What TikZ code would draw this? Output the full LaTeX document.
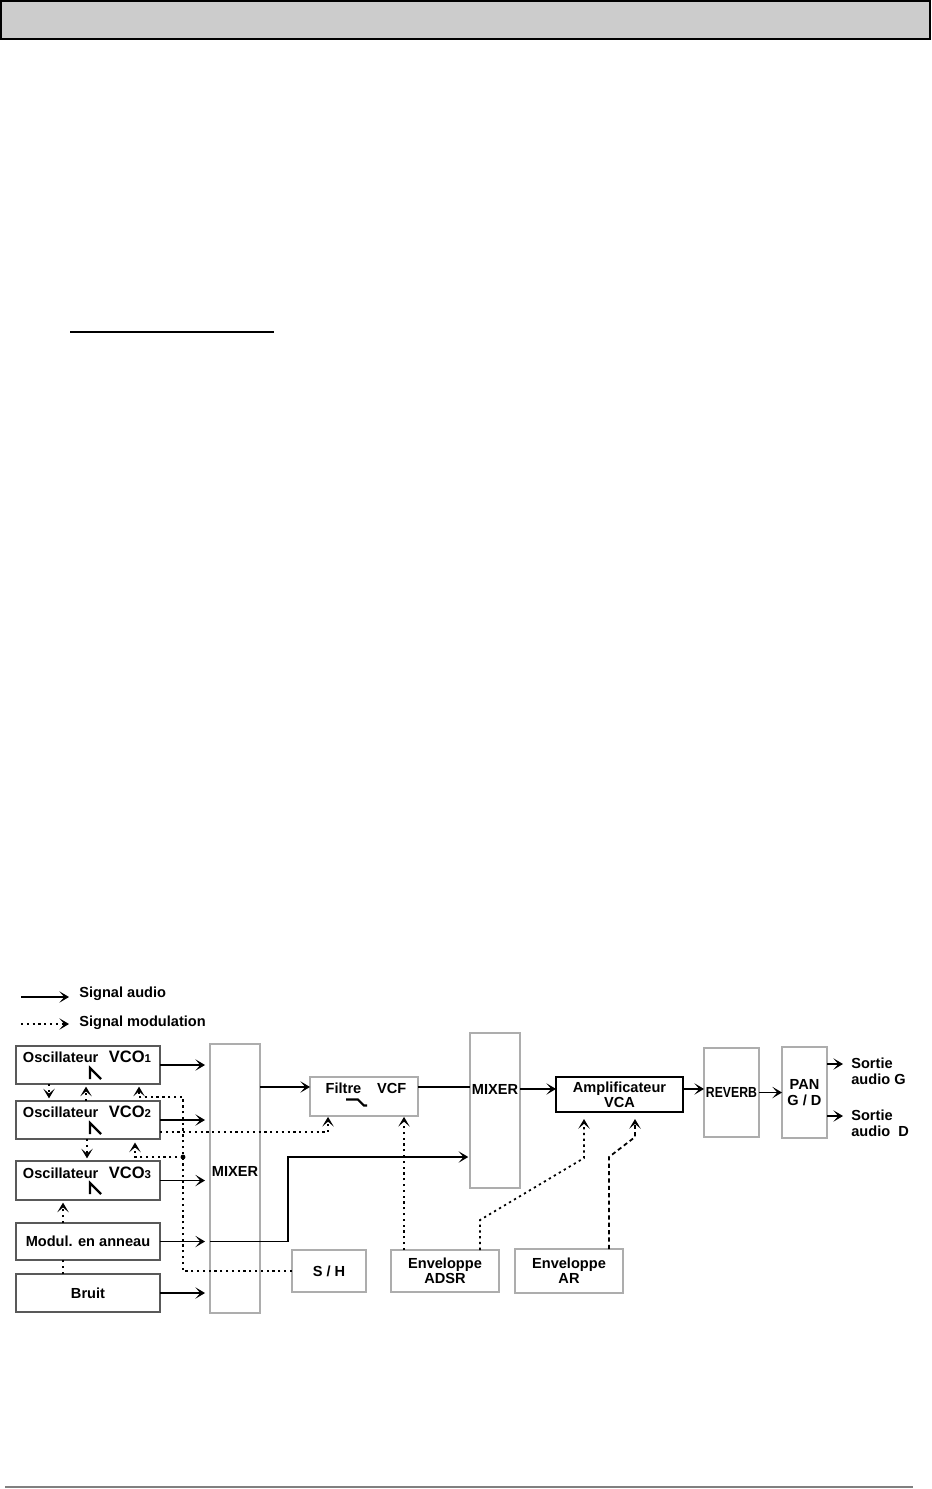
\documentclass[tikz,border=0pt]{standalone}
\usepackage{fontspec}
\setmainfont{Liberation Sans}
\usetikzlibrary{arrows.meta,calc}
\newcommand{\rampwave}[1]{%
  \draw[line width=1.3pt, line join=miter] ($(#1.north)+(2,33)$) -- ++(0,-11) -- ++(11,11);}
\newcommand{\vconame}[1]{Oscillateur\hspace{6pt}{\fontsize{9.4}{9}\selectfont VCO}{\fontsize{6.5}{6}\selectfont #1}}

\begin{document}
\begin{tikzpicture}[x=0.02cm, y=-0.02cm, >={Stealth[length=5.5pt,width=6.5pt,inset=2.8pt]},
  oscbox/.style={draw=black!65, line width=1.5pt, fill=white, inner sep=0pt, outer sep=0pt,
    minimum width=2.88cm, minimum height=0.76cm},
  greybox/.style={draw=black!32, line width=1.2pt, fill=white, inner sep=0pt, outer sep=0pt},
  lbl/.style={font=\fontsize{8.3}{8.7}\selectfont\bfseries, inner sep=0pt, align=center},
  sigaudio/.style={->, line width=0.9pt},
  sigmod/.style={->, line width=1pt, dash pattern=on 1.3pt off 2pt}]
  \useasboundingbox (0,0) rectangle (931,1489);
  \draw[line width=0.9pt, fill=black!20] (1,1) rectangle (930,39);
  \draw[line width=1.2pt] (70,332) -- (274,332);
  \draw[line width=0.7pt, black!50] (5,1487) -- (913,1487);

  % legend
  \coordinate (lgaudio) at (21,997);
  \coordinate (lgmod) at (21,1024);
  \node[lbl, anchor=west] (legaudio) at (79,994) {Signal audio};
  \node[lbl, anchor=west] (legmod) at (79,1023) {Signal modulation};
  \draw[sigaudio] (lgaudio) -- ($(lgaudio -| legaudio.west)+(-10,0)$);
  \draw[sigmod] (lgmod) -- ($(lgmod -| legmod.west)+(-10,0)$);

  % sources
  \node[oscbox] (vco1) at (88,1065) {};
  \node[oscbox] (vco2) at (88,1120) {};
  \node[oscbox, minimum height=0.78cm] (vco3) at (88,1180.5) {};
  \node[oscbox, lbl, minimum height=0.74cm] (modul) at (88,1241.5) {Modul. en anneau};
  \node[oscbox, lbl] (bruit) at (88,1293) {Bruit};
  \node[lbl] (vco1txt) at ($(vco1.north)+(-1,11)$) {\vconame{1}};
  \node[lbl] (vco2txt) at ($(vco2.north)+(-1,11)$) {\vconame{2}};
  \node[lbl] (vco3txt) at ($(vco3.north)+(-1,12)$) {\vconame{3}};
  \rampwave{vco1}
  \rampwave{vco2}
  \rampwave{vco3}

  % chain
  \node[greybox, minimum width=1cm, minimum height=5.38cm] (mix1) at (235,1178.5) {};
  \node[lbl] (mix1txt) at ($(mix1.center)+(0,-7.5)$) {MIXER};
  \node[greybox, minimum width=2.16cm, minimum height=0.78cm] (vcf) at (364,1096.5) {};
  \node[lbl] (vcftxt) at ($(vcf.center)+(2,-8.5)$) {Filtre\hspace{9pt}VCF};
  \draw[line width=1.2pt] ($(vcf.center)+(-18,3)$) -- ++(12,0) -- ++(6,6) -- ++(3,0);
  \node[greybox, minimum width=1cm, minimum height=3.1cm] (mix2) at (495,1110.5) {};
  \node[lbl] (mix2txt) at ($(mix2.center)+(0,-21.5)$) {MIXER};
  \node[greybox, draw=black, lbl, minimum width=2.54cm, minimum height=0.7cm] (vca) at (619.5,1094.5) {Amplificateur\\VCA};
  \node[greybox, lbl, minimum width=1.1cm, minimum height=1.78cm] (reverb) at (731.5,1092.5) {\scalebox{0.84}[1]{REVERB}};
  \node[greybox, lbl, minimum width=0.9cm, minimum height=1.82cm] (pan) at (804.5,1092.5) {PAN\\G / D};
  \node[lbl, align=left, anchor=base west] (outg) at (851,1084) {Sortie\\audio G};
  \node[lbl, align=left, anchor=base west] (outd) at (851,1136) {Sortie\\audio\ \ D};

  % modulators
  \node[greybox, lbl, minimum width=1.48cm, minimum height=0.84cm] (sh) at (329,1271) {S / H};
  \node[greybox, lbl, minimum width=2.16cm, minimum height=0.84cm] (adsr) at (445,1271) {Enveloppe\\ADSR};
  \node[greybox, lbl, minimum width=2.16cm, minimum height=0.88cm] (ar) at (569,1271) {Enveloppe\\AR};

  % audio signal
  \draw[sigaudio, shorten >=1mm] (vco1.east) -- (vco1.east -| mix1.west);
  \draw[sigaudio, shorten >=1mm] (vco2.east) -- (vco2.east -| mix1.west);
  \draw[sigaudio, shorten >=1mm] (vco3.east) -- (vco3.east -| mix1.west);
  \draw[sigaudio, shorten >=1mm] (modul.east) -- (modul.east -| mix1.west);
  \draw[sigaudio, shorten >=1mm] (bruit.east) -- (bruit.east -| mix1.west);
  \coordinate (ringup) at (288,1157);
  \draw[sigaudio, shorten >=1pt] (modul.east -| mix1.west) -| (ringup) -- (ringup -| mix2.west);
  \draw[sigaudio] (mix1.east |- vcf.170) -- (vcf.170);
  \draw[line width=0.9pt] (vcf.10) -- (vcf.10 -| mix2.west);
  \draw[sigaudio] (mix2.east |- vca.175) -- (vca.175);
  \draw[sigaudio] (vca.5) -- (vca.5 -| reverb.west);
  \draw[sigaudio] (reverb.east) -- (pan.west);
  \coordinate (outgtip) at ($(outg.base west)+(-8,-20)$);
  \coordinate (outdtip) at ($(outd.base west)+(-8,-20)$);
  \draw[sigaudio] (outgtip -| pan.east) -- (outgtip);
  \draw[sigaudio] (outdtip -| pan.east) -- (outdtip);

  % modulation signal
  \draw[sigmod, shorten >=1.5pt] ($(vco1.south west)+(33,0)$) -- ($(vco2.north west)+(33,0)$);
  \draw[sigmod, shorten >=1.5pt] ($(vco2.north west)+(70,0)$) -- ($(vco1.south west)+(70,0)$);
  \draw[sigmod, shorten >=1.5pt] ($(vco2.south west)+(71,0)$) -- ($(vco3.north west)+(71,0)$);
  \coordinate (shbus) at (183,1097);
  \coordinate (shjoin) at (183,1157);
  \draw[sigmod, shorten >=1.5pt] (sh.west) -| (shbus) -| ($(vco1.south west)+(123,0)$);
  \fill (shjoin) circle (1.4pt);
  \draw[sigmod, shorten >=2pt] (shjoin) -| ($(vco2.south west)+(119,0)$);
  \draw[sigmod, shorten >=0.5pt] ($(vco2.south east)+(0,-7)$) -| ($(vcf.south west)+(18,0)$);
  \draw[sigmod, -] ($(bruit.north west)+(47,0)$) -- ($(modul.south west)+(47,0)$);
  \draw[sigmod, shorten >=1.5pt] ($(modul.north west)+(47,0)$) -- ($(vco3.south west)+(47,0)$);
  \draw[sigmod, shorten >=0.5pt] ($(adsr.north west)+(13,0)$) -- ($(vcf.south west)+(94,0)$);
  \draw[sigmod, shorten >=4pt] ($(adsr.north west)+(89,0)$) -- ++(0,-30)
    -- ($(vca.south west)+(28,46)$) -- ($(vca.south west)+(28,0)$);
  \draw[sigmod, dash pattern=on 2.4pt off 1.8pt, shorten >=4pt] ($(ar.north west)+(94,0)$)
    -- ($(vca.south west)+(53,45)$) -- ($(vca.south west)+(79,25)$) -- ($(vca.south west)+(79,0)$);
\end{tikzpicture}
\end{document}
